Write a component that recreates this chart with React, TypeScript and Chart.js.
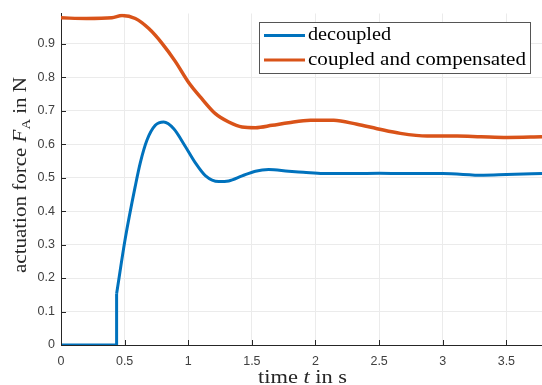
import React, { useEffect, useRef } from "react";
import { Chart, registerables } from "chart.js";

Chart.register(...registerables);

// decoupled: step part, then smooth response
const blueStepT = [0, 0.435, 0.437];
const blueStepV = [0, 0, 0.153];
const blueT = [0.437, 0.505, 0.584, 0.623, 0.676, 0.741, 0.807, 0.886, 0.977, 1.056, 1.134, 1.239, 1.318, 1.423, 1.528, 1.632, 1.789, 1.905, 2.06, 2.3, 2.5, 2.7, 3.0, 3.32, 3.5, 3.78];
const blueV = [0.153, 0.318, 0.475, 0.544, 0.612, 0.656, 0.666, 0.646, 0.593, 0.544, 0.506, 0.488, 0.49, 0.505, 0.519, 0.524, 0.519, 0.516, 0.512, 0.512, 0.513, 0.512, 0.512, 0.507, 0.509, 0.512];

const redT = [0, 0.2, 0.4, 0.48, 0.584, 0.69, 0.794, 0.898, 1.003, 1.108, 1.213, 1.318, 1.423, 1.528, 1.659, 1.789, 1.96, 2.143, 2.327, 2.484, 2.667, 2.877, 3.113, 3.3, 3.506, 3.78];
const redV = [0.977, 0.975, 0.977, 0.984, 0.975, 0.945, 0.901, 0.847, 0.784, 0.735, 0.691, 0.666, 0.651, 0.649, 0.656, 0.664, 0.671, 0.671, 0.659, 0.646, 0.632, 0.624, 0.624, 0.622, 0.620, 0.622];

const seriesNames = ["decoupled", "coupled and compensated"];
const seriesColors = ["#0072BD", "#D95319"];

const xTicks = [0, 0.5, 1, 1.5, 2, 2.5, 3, 3.5];
const yTicks = [0, 0.1, 0.2, 0.3, 0.4, 0.5, 0.6, 0.7, 0.8, 0.9];
const xMax = 3.78;
const yMax = 0.99;

const SERIF = "'Liberation Serif', 'DejaVu Serif', serif";
const SANS = "'Liberation Sans', Arial, sans-serif";

type Seg = { t: string; italic?: boolean; sub?: boolean };

function segFont(s: Seg, size: number) {
  const fs = s.sub ? size * 0.7 : size;
  return `${s.italic ? "italic " : ""}${fs}px ${SERIF}`;
}

function measureRich(ctx: CanvasRenderingContext2D, segs: Seg[], size: number) {
  let x = 0;
  for (const s of segs) {
    ctx.font = segFont(s, size);
    x += ctx.measureText(s.t).width;
  }
  return x;
}

// draws rich text centred at (0,0) baseline, stretched to target width
function drawRichFit(ctx: CanvasRenderingContext2D, segs: Seg[], size: number, target: number) {
  const w = measureRich(ctx, segs, size);
  const k = target / w;
  ctx.scale(k, 1);
  let x = -w / 2;
  for (const s of segs) {
    ctx.font = segFont(s, size);
    ctx.fillText(s.t, x, s.sub ? size * 0.22 : 0);
    x += ctx.measureText(s.t).width;
  }
}

const decorPlugin = {
  id: "decor",
  afterDraw(chart: any) {
    const ctx: CanvasRenderingContext2D = chart.ctx;
    const xs = chart.scales.x;
    const ys = chart.scales.y;
    const area = chart.chartArea;
    ctx.save();
    // inward tick marks
    ctx.strokeStyle = "#262626";
    ctx.lineWidth = 1;
    ctx.beginPath();
    for (const v of xTicks) {
      const px = Math.round(xs.getPixelForValue(v)) + 0.5;
      ctx.moveTo(px, area.bottom);
      ctx.lineTo(px, area.bottom - 5);
    }
    for (const v of yTicks) {
      const py = Math.round(ys.getPixelForValue(v)) + 0.5;
      ctx.moveTo(area.left, py);
      ctx.lineTo(area.left + 5, py);
    }
    ctx.stroke();

    // axis titles
    ctx.fillStyle = "#262626";
    ctx.textBaseline = "alphabetic";
    ctx.textAlign = "left";
    const xSegs: Seg[] = [{ t: "time " }, { t: "t", italic: true }, { t: " in s" }];
    ctx.save();
    ctx.translate(302.5, 383);
    drawRichFit(ctx, xSegs, 19, 89);
    ctx.restore();

    const ySegs: Seg[] = [
      { t: "actuation force " },
      { t: "F", italic: true },
      { t: "A", sub: true },
      { t: " in N" },
    ];
    ctx.save();
    ctx.translate(26, 175);
    ctx.rotate(-Math.PI / 2);
    drawRichFit(ctx, ySegs, 19, 196);
    ctx.restore();

    // legend
    const lx = 259.5, ly = 22.5, lw = 271, lh = 51;
    ctx.fillStyle = "#ffffff";
    ctx.fillRect(lx, ly, lw, lh);
    ctx.strokeStyle = "#555555";
    ctx.lineWidth = 1;
    ctx.strokeRect(lx, ly, lw, lh);
    const rows = [35.5, 60];
    const widths = [83, 218];
    for (let i = 0; i < 2; i++) {
      ctx.strokeStyle = seriesColors[i];
      ctx.lineWidth = 3;
      ctx.beginPath();
      ctx.moveTo(264, rows[i]);
      ctx.lineTo(305, rows[i]);
      ctx.stroke();
      ctx.fillStyle = "#000000";
      ctx.textBaseline = "middle";
      ctx.save();
      ctx.translate(308 + widths[i] / 2, rows[i]);
      drawRichFit(ctx, [{ t: seriesNames[i] }], 19, widths[i]);
      ctx.restore();
    }
    ctx.restore();
  },
};

export default function App() {
  const ref = useRef<HTMLCanvasElement | null>(null);
  useEffect(() => {
    if (!ref.current) return;
    const chart = new Chart(ref.current, {
      type: "line",
      data: {
        datasets: [
          {
            label: seriesNames[0] + " step",
            data: blueStepT.map((t, i) => ({ x: t, y: blueStepV[i] })),
            borderColor: seriesColors[0],
            borderWidth: 3,
            pointRadius: 0,
            tension: 0,
            fill: false,
          },
          {
            label: seriesNames[0],
            data: blueT.map((t, i) => ({ x: t, y: blueV[i] })),
            borderColor: seriesColors[0],
            borderWidth: 3,
            pointRadius: 0,
            cubicInterpolationMode: "monotone",
            fill: false,
          },
          {
            label: seriesNames[1],
            data: redT.map((t, i) => ({ x: t, y: redV[i] })),
            borderColor: seriesColors[1],
            borderWidth: 3.5,
            pointRadius: 0,
            cubicInterpolationMode: "monotone",
            fill: false,
          },
        ],
      },
      options: {
        animation: false,
        responsive: false,
        layout: { padding: { top: 8, right: 0, left: 0, bottom: 0 } },
        plugins: { legend: { display: false }, tooltip: { enabled: false } },
        scales: {
          x: {
            type: "linear",
            min: 0,
            max: xMax,
            afterBuildTicks: (s: any) => {
              s.ticks = xTicks.map((v) => ({ value: v }));
            },
            afterFit: (s: any) => {
              s.height = 40;
            },
            grid: { color: "#ebebeb", drawTicks: false, lineWidth: 1 },
            border: { color: "#262626", width: 1 },
            ticks: {
              padding: 9,
              color: "#404040",
              font: { family: SANS, size: 12.5 },
              callback: (v: any) => String(Math.round(Number(v) * 10) / 10),
              maxRotation: 0,
            },
          },
          y: {
            type: "linear",
            min: 0,
            max: yMax,
            afterBuildTicks: (s: any) => {
              s.ticks = yTicks.map((v) => ({ value: v }));
            },
            afterFit: (s: any) => {
              s.width = 61;
            },
            grid: { color: "#ebebeb", drawTicks: false, lineWidth: 1 },
            border: { color: "#262626", width: 1 },
            ticks: {
              padding: 6,
              color: "#404040",
              font: { family: SANS, size: 12.5 },
              callback: (v: any) => String(Math.round(Number(v) * 10) / 10),
            },
          },
        },
      },
      plugins: [decorPlugin],
    } as any);
    return () => chart.destroy();
  }, []);
  return (
    <div style={{ position: "absolute", left: 0, top: 0, width: 542, height: 385 }}>
      <canvas ref={ref} width={542} height={385} style={{ display: "block" }} />
    </div>
  );
}
